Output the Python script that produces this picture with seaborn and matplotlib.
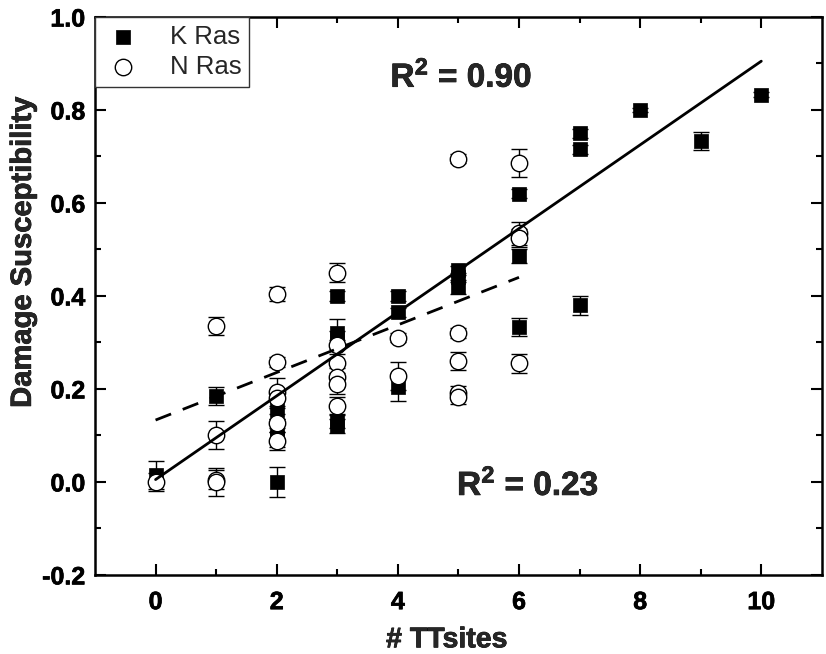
import matplotlib
matplotlib.use("Agg")
import matplotlib.pyplot as plt
import matplotlib.patheffects as pe
import seaborn as sns
import pandas as pd

# ---- data ----
k_x = [0, 1, 2, 2, 2, 2, 3, 3, 3, 3, 3, 4, 4, 4, 5, 5, 5, 6, 6, 6, 7, 7, 7, 8, 9, 10]
k_y = [0.015, 0.185, 0.0, 0.155, 0.115, 0.095, 0.40, 0.32, 0.31, 0.13, 0.12,
       0.40, 0.365, 0.205, 0.455, 0.44, 0.42, 0.62, 0.485, 0.333,
       0.75, 0.715, 0.38, 0.80, 0.733, 0.833]
k_err = [0.03, 0.02, 0.033, 0.02, 0.02, 0.02, 0.01, 0.03, 0.015, 0.015, 0.015,
         0.01, 0.01, 0.03, 0.01, 0.01, 0.015, 0.01, 0.015, 0.02,
         0.01, 0.01, 0.02, 0.005, 0.02, 0.005]

n_x = [0, 1, 1, 1, 1, 2, 2, 2, 2, 2, 2, 3, 3, 3, 3, 3, 3, 4, 4, 5, 5, 5, 5, 5, 6, 6, 6, 6]
n_y = [0.0, 0.335, 0.10, 0.005, 0.0, 0.405, 0.258, 0.194, 0.18, 0.127, 0.088,
       0.45, 0.295, 0.255, 0.225, 0.21, 0.163, 0.31, 0.227,
       0.695, 0.32, 0.26, 0.192, 0.183, 0.685, 0.535, 0.525, 0.255]
n_err = [0.02, 0.02, 0.03, 0.02, 0.03, 0.015, 0.01, 0.03, 0.02, 0.02, 0.02,
         0.02, 0.01, 0.02, 0.02, 0.02, 0.02, 0.01, 0.03,
         0.01, 0.01, 0.02, 0.015, 0.015, 0.03, 0.025, 0.02, 0.02]

# fitted lines (end points)
fit_k_x = [0, 10]
fit_k_y = [0.005, 0.905]
fit_n_x = [0, 6]
fit_n_y = [0.133, 0.44]

series_names = ["K Ras", "N Ras"]
r2_labels = ["0.90", "0.23"]
x_ticks = [0, 2, 4, 6, 8, 10]
y_ticks = [-0.2, 0.0, 0.2, 0.4, 0.6, 0.8, 1.0]

# ---- style ----
sns.set_theme(style="ticks")
plt.rcParams["font.family"] = ["Liberation Sans", "DejaVu Sans"]
plt.rcParams["mathtext.fontset"] = "custom"
plt.rcParams["mathtext.rm"] = "Liberation Sans"
plt.rcParams["mathtext.bf"] = "Liberation Sans:bold"

heavy = [pe.withStroke(linewidth=0.5, foreground="black")]

fig = plt.figure(figsize=(8.26, 6.54), dpi=100)
ax = fig.add_axes([0.115, 0.121, 0.880, 0.853])

df = pd.DataFrame({
    "x": k_x + n_x,
    "y": k_y + n_y,
    "err": k_err + n_err,
    "series": [series_names[0]] * len(k_x) + [series_names[1]] * len(n_x),
})

# error bars
for name in series_names:
    d = df[df.series == name]
    ax.errorbar(d.x, d.y, yerr=d.err, fmt="none", ecolor="black",
                elinewidth=1.0, capsize=5.5, capthick=1.0, zorder=2)

# fit lines
sns.lineplot(x=fit_k_x, y=fit_k_y, ax=ax, color="black", linewidth=2.0, zorder=4)
sns.lineplot(x=fit_n_x, y=fit_n_y, ax=ax, color="black", linewidth=2.0,
             zorder=4).lines[-1].set_dashes([6, 4.5])

# markers
dk = df[df.series == series_names[0]]
dn = df[df.series == series_names[1]]
sns.scatterplot(data=dk, x="x", y="y", marker="s", s=115, color="black",
                edgecolor="black", linewidth=0.5, ax=ax, zorder=3, label=series_names[0])
sns.scatterplot(data=dn, x="x", y="y", marker="o", s=140, facecolor="white",
                edgecolor="black", linewidth=1.0, ax=ax, zorder=3, label=series_names[1])

ax.set_xlim(-1, 11)
ax.set_ylim(-0.2, 1.0)
ax.set_xticks(x_ticks)
ax.set_yticks(y_ticks)
ax.set_xticks([1, 3, 5, 7, 9], minor=True)
ax.set_yticks([-0.1, 0.1, 0.3, 0.5, 0.7, 0.9], minor=True)
ax.set_xticklabels([str(t) for t in x_ticks])
ax.set_yticklabels([f"{t:.1f}" for t in y_ticks])
ax.tick_params(which="both", direction="in", top=True, right=True, width=1.5, colors="black")
ax.tick_params(which="major", length=8, labelsize=18, pad=11)
ax.tick_params(which="minor", length=4)
ax.tick_params(axis="y", which="major", pad=7)
for lab in ax.get_xticklabels() + ax.get_yticklabels():
    lab.set_fontweight("bold")
    lab.set_path_effects(heavy)
for sp in ax.spines.values():
    sp.set_linewidth(1.8)
    sp.set_color("black")
    sp.set_visible(True)

xl = ax.set_xlabel("# TTsites", fontsize=20.5, fontweight="bold")
yl = ax.set_ylabel("Damage Susceptibility", fontsize=21, fontweight="bold")
xl.set_path_effects(heavy)
yl.set_path_effects(heavy)
ax.xaxis.set_label_coords(0.484, -0.094)
ax.yaxis.set_label_coords(-0.08, 0.578)

t1 = ax.text(5.05, 0.872, r"$\mathbf{R^2}$ = " + r2_labels[0], fontsize=24,
             fontweight="bold", ha="center", va="center")
t2 = ax.text(6.15, -0.006, r"$\mathbf{R^2}$ = " + r2_labels[1], fontsize=24,
             fontweight="bold", ha="center", va="center")
for t in (t1, t2):
    t.set_path_effects(heavy)

leg = ax.legend(loc="upper left", borderaxespad=0, fancybox=False, frameon=True,
                fontsize=18.5, handletextpad=1.0, labelspacing=0.25, borderpad=0.3,
                handlelength=1.6)
leg.get_frame().set_edgecolor("#333333")
leg.get_frame().set_linewidth(1.0)
leg.get_frame().set_alpha(1)

fig.savefig("out.png", dpi=100)
